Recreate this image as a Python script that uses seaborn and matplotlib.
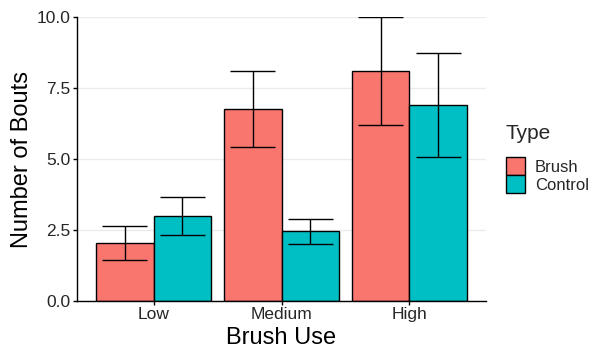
import matplotlib
matplotlib.use("Agg")
import matplotlib.pyplot as plt
import seaborn as sns
import pandas as pd
from matplotlib.patches import Patch

# Mean number of bouts with error limits, by brush use level and type
levels = ["Low", "Medium", "High"]
types = ["Brush", "Control"]
brush_mean = [2.04, 6.77, 8.10]
brush_low = [1.44, 5.43, 6.19]
brush_high = [2.64, 8.10, 10.00]
control_mean = [2.99, 2.46, 6.90]
control_low = [2.32, 2.02, 5.08]
control_high = [3.66, 2.89, 8.73]

palette = {"Brush": "#F8766D", "Control": "#00BFC4"}

df = pd.DataFrame({
    "Brush Use": levels * 2,
    "Type": ["Brush"] * 3 + ["Control"] * 3,
    "Bouts": brush_mean + control_mean,
    "lo": brush_low + control_low,
    "hi": brush_high + control_high,
})

sns.set_style("white")
plt.rcParams["font.family"] = ["Liberation Sans", "DejaVu Sans"]

fig = plt.figure(figsize=(5.98, 3.48), dpi=100)
ax = fig.add_axes([77 / 598, 47 / 348, (486 - 77) / 598, (301 - 17) / 348])

sns.barplot(data=df, x="Brush Use", y="Bouts", hue="Type", order=levels,
            hue_order=types, palette=palette, errorbar=None, width=0.9,
            edgecolor="black", linewidth=1.0, saturation=1, ax=ax, legend=False,
            zorder=2)

# error bars centred on each drawn bar
for container, t in zip(ax.containers, types):
    sub = df[df["Type"] == t].set_index("Brush Use").loc[levels]
    xs = [b.get_x() + b.get_width() / 2 for b in container]
    ax.vlines(xs, sub["lo"], sub["hi"], color="black", linewidth=1.0, zorder=3)
    for x, lo, hi in zip(xs, sub["lo"], sub["hi"]):
        ax.hlines([lo, hi], x - 0.176, x + 0.176, color="black",
                  linewidth=1.0, zorder=3)

ax.set_xlim(-0.6, 2.6)
ax.set_ylim(0, 10)
ax.set_yticks([0, 2.5, 5, 7.5, 10])
ax.set_yticklabels(["0.0", "2.5", "5.0", "7.5", "10.0"])
ax.yaxis.grid(True, color="#EBEBEB", linewidth=1.0, zorder=0)
ax.xaxis.grid(False)
ax.set_axisbelow(True)

for s in ["top", "right"]:
    ax.spines[s].set_visible(False)
for s in ["left", "bottom"]:
    ax.spines[s].set_color("black")
    ax.spines[s].set_linewidth(1.0)

ax.tick_params(axis="both", which="major", length=3, width=1.0, color="black",
               labelsize=12.5, labelcolor="#262626", left=True, bottom=True)
ax.tick_params(axis="x", pad=1)
ax.tick_params(axis="y", pad=2)
ax.set_xlabel("Brush Use", fontsize=17, color="black", labelpad=4)
ax.set_ylabel("Number of Bouts", fontsize=17, color="black", labelpad=2)

handles = [Patch(facecolor=palette[t], edgecolor="black", linewidth=1.0, label=t)
           for t in types]
leg = fig.legend(handles=handles, title="Type", loc="upper left",
                 bbox_to_anchor=(506 / 598, 1 - 124 / 348), frameon=False,
                 fontsize=12, title_fontsize=15, handlelength=1.14,
                 handleheight=1.3, labelspacing=0, handletextpad=0.6,
                 borderaxespad=0, borderpad=0)
leg._legend_box.align = "left"
leg._legend_box.sep = 10

fig.savefig("out.png", dpi=100)
